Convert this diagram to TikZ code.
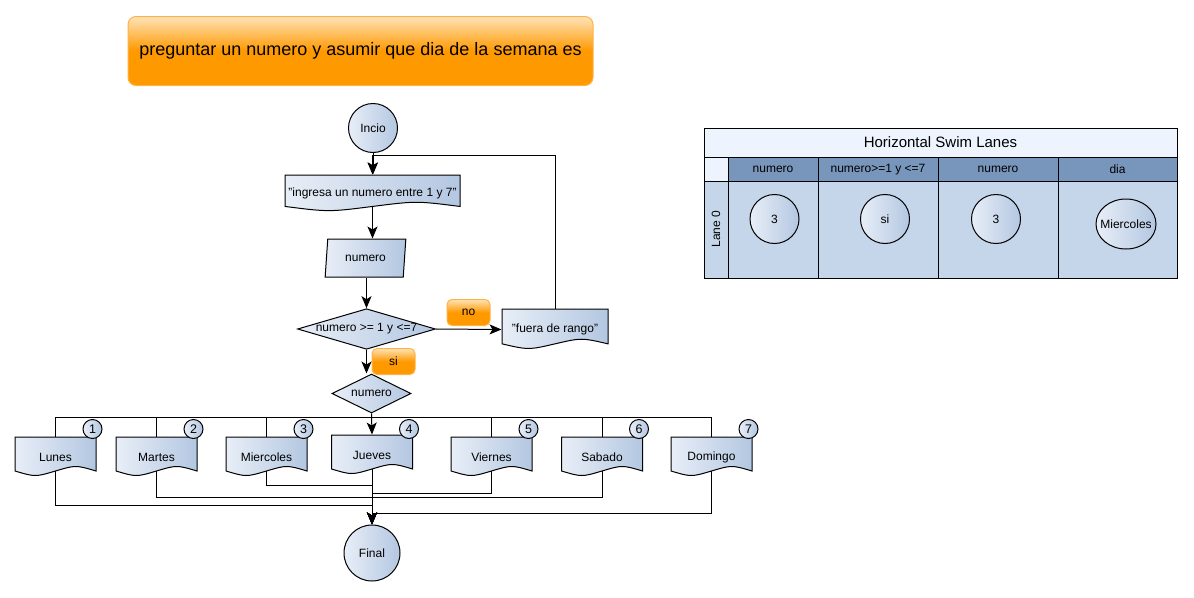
\documentclass[tikz,border=0pt]{standalone}
\usepackage{fontspec}
\setmainfont{Liberation Sans}
\usetikzlibrary{shapes.geometric,arrows.meta,calc,positioning}

\definecolor{docA}{HTML}{E8EEF7}
\definecolor{docB}{HTML}{B3C7E1}
\definecolor{orangeA}{HTML}{FFE3B8}
\definecolor{orangeB}{HTML}{FF9900}
\definecolor{orangeLine}{HTML}{FFB347}
\definecolor{laneTop}{HTML}{EDF4FD}
\definecolor{laneHead}{HTML}{7896BC}
\definecolor{laneBody}{HTML}{C5D6EB}

\tikzset{
  txt/.style={font=\fontsize{12}{14}\selectfont},
  box/.style={txt, draw=black, left color=docA, right color=docB, inner sep=0pt},
  terminal/.style={box, circle, minimum size=#1},
  decision/.style={box, diamond},
  inout/.style={box, trapezium, trapezium left angle=78, trapezium right angle=102, trapezium stretches=true},
  doctext/.style={txt, inner sep=0pt},
  docline/.style={draw=black, left color=docA, right color=docB},
  badge/.style={box, circle, minimum size=19, font=\fontsize{12.5}{14}\selectfont},
  tag/.style={txt, draw=orangeLine, rounded corners=5, top color=orangeA, bottom color=orangeB, middle color=orangeB, minimum width=43, minimum height=26},
  arrow/.style={-{Stealth[length=12pt,width=10pt,inset=3pt]}},
}

\newcommand{\docnode}[6]{%
  \draw[docline] ({#2-#4/2},#3) -- ({#2+#4/2},#3) -- ({#2+#4/2},{#3+0.85*#5})
    .. controls ({#2+#4/4},{#3+0.85*#5-0.15*#5}) .. (#2,{#3+0.85*#5})
    .. controls ({#2-#4/4},{#3+0.85*#5+0.15*#5}) .. ({#2-#4/2},{#3+0.85*#5}) -- cycle;
  \node[doctext, minimum width=#4, minimum height=#5] (#1) at (#2,{#3+#5/2}) {#6};
  \coordinate (#1-b) at (#2,{#3+0.85*#5});
}

\begin{document}
\begin{tikzpicture}[x=1pt,y=-1pt,line width=1pt]
\useasboundingbox (0,0) rectangle (1194,597);

\node[tag, rounded corners=8, minimum width=465, minimum height=69, font=\fontsize{18}{21}\selectfont] (titulo) at (360.5,51) {preguntar un numero y asumir que dia de la semana es};

\node[terminal=49] (incio) at (373,128) {Incio};
\docnode{ingresa}{372.5}{175}{175}{37}{"ingresa un numero entre 1 y 7"}
\node[inout, minimum width=81, minimum height=38] (leer) at (365.5,258) {numero};
\node[decision, aspect=3.4, minimum width=137, minimum height=40] (cond) at (366.5,329) {numero >= 1 y <=7};
\docnode{fuera}{555}{309}{106}{41}{"fuera de rango"}
\node[decision, aspect=2, minimum width=79, minimum height=39] (dia) at (371.5,393.5) {numero};
\node[tag] (no) at (468.5,312.5) {no};
\node[tag] (si) at (393.5,361.5) {si};

\foreach \n/\x/\y/\t/\k in {lunes/55.5/437/Lunes/1, martes/156.5/437/Martes/2, miercoles/266.5/437/Miercoles/3, jueves/372/435/Jueves/4, viernes/491.5/437/Viernes/5, sabado/602/437/Sabado/6, domingo/711.5/437/Domingo/7}{
  \docnode{\n}{\x}{\y}{81}{40}{\t}
  \node[badge] (badge\k) at ({\x+37},429) {\k};
}
\node[terminal=56] (final) at (372,553) {Final};

\draw[arrow] (incio.south) -- (incio.south |- ingresa.north);
\draw[arrow] (ingresa-b) -- (ingresa-b |- leer.north);
\draw[arrow] (cond.north |- leer.south) -- (cond.north);
\draw[arrow] (cond.east) -- (fuera.west);
\draw[arrow] (fuera.north) -- ++(0,-153) -| (ingresa.north);
\draw[arrow] (cond.south) -- (cond.south |- dia.north);

\foreach \n in {lunes,martes,miercoles,viernes,sabado,domingo}
  \draw (dia.south) -- ++(0,4) -| (\n.north);
\draw[arrow] (dia.south) -- (jueves.north);

\foreach \n/\d in {lunes/34, martes/26, miercoles/14, viernes/22, sabado/26, domingo/42}
  \draw[arrow] (\n-b) -- ++(0,\d) -| (final.north);
\draw[arrow] (jueves-b) -- (final.north);

\draw[fill=laneTop] (704,128) rectangle (1177,157);
\node[font=\fontsize{15}{18}\selectfont] (lanetitle) at (940.5,142.5) {Horizontal Swim Lanes};
\draw[fill=laneTop] (704,157) rectangle (728,181);
\draw[fill=laneHead] (728,157) rectangle (1177,181);
\draw[fill=laneBody] (704,181) rectangle (1177,278);
\draw[fill=laneBody] (704,181) rectangle (728,278);
\foreach \c in {818,938,1058}
  \draw (\c,157) -- (\c,278);
\foreach \m/\c/\t in {h1/773/numero, h2/878/{numero>=1 y <=7}, h3/998/numero, h4/1117.5/dia}
  \node[txt] (\m) at (\c,169.5) {\t};
\node[txt, rotate=90] (lane) at (716,229) {Lane 0};

\node[terminal=49] (s1) at (774.5,219) {3};
\node[terminal=49] (s2) at (885,219) {si};
\node[terminal=49] (s3) at (996,219) {3};
\node[box, ellipse, minimum width=60, minimum height=50] (s4) at (1126,224) {\makebox[0pt][c]{Miercoles}};
\end{tikzpicture}
\end{document}
